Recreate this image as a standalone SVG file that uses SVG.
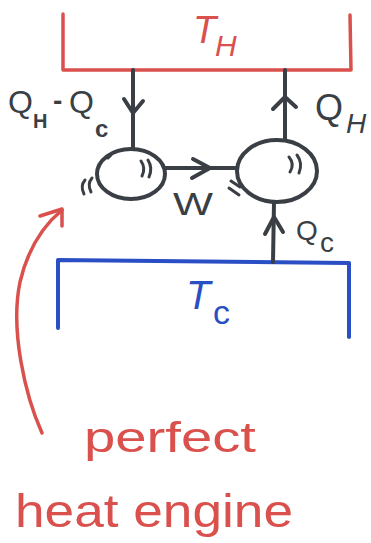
<svg xmlns="http://www.w3.org/2000/svg" width="371" height="543" viewBox="0 0 371 543">
<defs>
<style>
.red{stroke:#d9504c;fill:none;stroke-width:3.5;stroke-linecap:round;stroke-linejoin:round}
.blue{stroke:#2a4ec4;fill:none;stroke-width:4;stroke-linecap:round;stroke-linejoin:round}
.ink{stroke:#3a3f45;fill:none;stroke-width:4;stroke-linecap:round;stroke-linejoin:round}
.mark{stroke:#3a3f45;fill:none;stroke-width:3;stroke-linecap:round}
text{font-family:"Liberation Sans","DejaVu Sans",sans-serif}
.tk{fill:#3a3f45}
.tr{fill:#d9504c}
.tb{fill:#2a4ec4}
</style>
</defs>
<rect width="371" height="543" fill="#ffffff"/>

<g id="hot-reservoir">
<path class="red" d="M63,14 L63,70 L351,70 L350,15"/>
<text class="tr" x="193" y="43" font-size="38" font-style="italic">T</text>
<text class="tr" x="215" y="56" font-size="30" font-style="italic">H</text>
</g>

<g id="cold-reservoir">
<path class="blue" d="M58,328 L58,260 L349,263 L349,337"/>
<text class="tb" x="186" y="309" font-size="40" font-style="italic">T</text>
<text class="tb" x="213" y="324" font-size="34">c</text>
</g>

<g id="engine">
<ellipse class="ink" cx="131" cy="174" rx="34" ry="25"/>
<path class="mark" d="M141,161 Q146,168 142,176 M148,160 Q153,168 149,177"/>
<path class="mark" d="M108,158 L111,155"/>
<path class="mark" d="M85,180 Q80,186 84,194 M92,178 Q87,184 91,192"/>
</g>

<g id="heat-pump">
<ellipse class="ink" cx="277" cy="171" rx="40" ry="31"/>
<path class="mark" d="M289,157 Q295,164 290,172 M297,155 Q303,163 299,173"/>
<path class="mark" d="M231,181 L240,187 M229,188 L239,195"/>
</g>

<g id="connectors">
<path class="ink" d="M133,70 L133,149"/>
<path class="ink" d="M124,99 L133,113 L143,101"/>
<path class="ink" d="M285,70 L285,140"/>
<path class="ink" d="M273,109 L285,97 L296,107"/>
<path class="ink" d="M165,168 L237,168"/>
<path class="ink" d="M193,159 L210,168 L192,178"/>
<path class="ink" d="M273,262 L274,202"/>
<path class="ink" d="M265,234 L274,217 L283,232"/>
<path class="red" d="M42,433 C25,395 10,330 20,282 C28,248 44,225 62,210"/>
<path class="red" d="M40,216 L62,209 L62,226"/>
</g>

<g id="labels">
<text class="tk" x="8" y="113" font-size="32">Q</text>
<text class="tk" x="33" y="128" font-size="20" font-weight="bold">H</text>
<text class="tk" x="53" y="110" font-size="28" font-weight="bold">-</text>
<text class="tk" x="69" y="113" font-size="32">Q</text>
<text class="tk" x="95" y="137" font-size="24" font-weight="bold">c</text>
<text class="tk" x="315" y="120" font-size="36">Q</text>
<text class="tk" x="346" y="133" font-size="28" font-style="italic">H</text>
<text class="tk" x="173" y="215" font-size="32" textLength="40" lengthAdjust="spacingAndGlyphs">W</text>
<text class="tk" x="296" y="240" font-size="28">Q</text>
<text class="tk" x="320" y="252" font-size="28">c</text>
<text class="tr" x="84" y="452" font-size="42" textLength="172" lengthAdjust="spacingAndGlyphs">perfect</text>
<text class="tr" x="15" y="527" font-size="46" textLength="278" lengthAdjust="spacingAndGlyphs">heat engine</text>
</g>
</svg>
